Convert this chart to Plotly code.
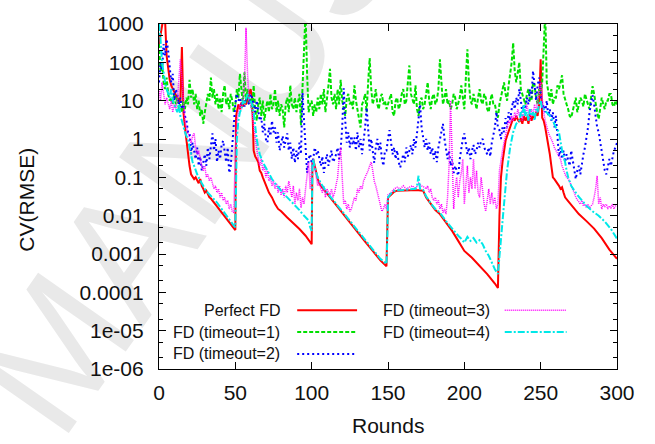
import plotly.graph_objects as go

# ---------------- data ----------------
perfect_fd = [(0,300),(1,600),(2,900),(3,1500),(4,1200),(5,150),(6,60),(7,35),(8,25),(9,20),(10,18),(11,14),(12,12),(13,10),(14,9),(15,250),(16,5),(17,2),(18,0.8),(19,0.35),(20,0.2),(21,0.12),(22,0.1),(23,0.09),(24,0.1),(25,0.08),(26,0.07),(27,0.09),(28,0.06),(29,0.05),(30,0.04),(31,0.045),(32,0.035),(33,0.03),(34,0.028),(36,0.022),(38,0.018),(40,0.014),(42,0.011),(44,0.0085),(46,0.0068),(48,0.0052),(50,0.0042),(50.5,4),(52,8),(53,6),(54,9),(55,7),(56,10),(57,8),(58,12),(59,15),(60,20),(61,12),(62,0.5),(63,0.35),(64,0.3),(65,0.25),(66,0.15),(67,0.13),(68,0.1),(69,0.08),(70,0.06),(72,0.04),(74,0.03),(76,0.02),(78,0.015),(80,0.013),(84,0.009),(88,0.0065),(92,0.0045),(96,0.003),(99,0.002),(100,0.0018),(100.5,0.25),(101,0.3),(102,0.2),(103,0.12),(104,0.09),(105,0.07),(106,0.06),(110,0.038),(115,0.021),(120,0.012),(125,0.0068),(130,0.0037),(135,0.0021),(140,0.0012),(145,0.00068),(149,0.00048),(149.5,0.002),(150,0.03),(152,0.035),(154,0.042),(156,0.045),(160,0.046),(165,0.046),(170,0.046),(173,0.045),(175,0.03),(178,0.02),(181,0.014),(184,0.011),(188,0.0066),(192,0.004),(196,0.0022),(200,0.0012),(205,0.0008),(210,0.0005),(215,0.0003),(220,0.00017),(222,0.00013),(223,0.01),(224,0.1),(225,0.25),(226,0.5),(227,0.9),(228,1.2),(229,1.6),(230,2.2),(231,2.8),(232,3.5),(233,3),(234,4),(235,3.2),(236,2.8),(237,3.5),(238,2.5),(239,4),(240,3),(241,3.8),(242,2.5),(243,4.5),(244,3),(245,4),(246,3.5),(247,5),(248,4),(249,8),(250,120),(251,3.6),(252,3),(253,2),(254,1.2),(255,0.8),(256,0.4),(257,0.2),(258,0.1),(259,0.09),(260,0.08),(261,0.07),(262,0.06),(263,0.05),(264,0.055),(265,0.04),(266,0.03),(268,0.024),(270,0.019),(272,0.015),(275,0.011),(280,0.0072),(285,0.0046),(290,0.0026),(295,0.0013),(300,0.00075)]

timeout1 = [(0,300),(1,60),(2,100),(3,30),(4,20),(5,40),(6,15),(7,10),(8,12),(9,8),(10,15),(11,8),(12,12),(13,6),(14,8),(15,5),(16,10),(17,6),(18,12),(19,8),(20,35),(21,12),(22,20),(23,8),(24,15),(25,6),(26,10),(27,4),(28,6),(29,2.5),(30,5),(31,8),(32,15),(33,10),(34,40),(35,12),(36,20),(37,8),(38,15),(39,6),(40,12),(41,5),(42,15),(43,25),(44,8),(45,12),(46,6),(47,15),(48,10),(49,5),(50,8),(51,20),(52,12),(53,50),(54,15),(55,8),(56,55),(57,10),(58,20),(59,8),(60,12),(61,5),(62,25),(63,6),(64,3),(65,8),(66,12),(67,4),(68,10),(69,3),(70,6),(71,10),(72,5),(73,15),(74,6),(75,8),(76,20),(77,5),(78,10),(79,4),(80,8),(81,6),(82,2),(83,8),(84,12),(85,5),(86,25),(87,8),(88,6),(89,12),(90,5),(91,10),(92,15),(93,2.3),(94,20),(95,300),(96,2000),(97,50),(98,5),(99,8),(100,10),(101,4),(102,8),(103,5),(104,12),(105,6),(106,15),(107,8),(108,20),(109,5),(110,10),(111,25),(112,68),(113,12),(114,8),(115,15),(116,6),(117,20),(118,8),(119,35),(120,10),(121,6),(122,4),(123,12),(124,15),(125,8),(126,10),(127,6),(128,25),(129,10),(130,6),(131,4),(132,2),(133,8),(134,10),(135,15),(136,5),(137,30),(138,130),(139,20),(140,8),(141,12),(142,20),(143,8),(144,6),(145,12),(146,15),(147,8),(148,10),(149,6),(150,8),(151,12),(152,15),(153,5),(154,4),(155,10),(156,12),(157,6),(158,8),(159,15),(160,20),(161,8),(162,10),(163,30),(164,83),(165,15),(166,10),(167,8),(168,25),(169,6),(170,4),(171,10),(172,12),(173,6),(174,8),(175,15),(176,30),(177,10),(178,6),(179,12),(180,15),(181,8),(182,10),(183,20),(184,120),(185,30),(186,8),(187,12),(188,20),(189,8),(190,10),(191,6),(192,8),(193,15),(194,12),(195,6),(196,8),(197,12),(198,25),(199,10),(200,6),(201,40),(202,220),(203,30),(204,10),(205,8),(206,15),(207,10),(208,6),(209,12),(210,20),(211,10),(212,8),(213,15),(214,12),(215,6),(216,5),(217,10),(218,15),(219,8),(220,8),(221,5),(222,3.6),(223,8),(224,12),(225,20),(226,30),(227,15),(228,10),(229,25),(230,50),(231,100),(232,320),(233,60),(234,30),(235,50),(236,100),(237,20),(238,15),(239,10),(240,8),(241,15),(242,20),(243,10),(244,10),(245,30),(246,25),(247,12),(248,8),(249,20),(250,15),(251,30),(252,200),(253,2000),(254,30),(255,15),(256,10),(257,20),(258,8),(259,12),(260,12),(261,25),(262,20),(263,30),(264,46),(265,15),(266,10),(267,8),(268,6),(269,4),(270,3.6),(271,6),(272,8),(273,12),(274,5),(275,8),(276,12),(277,10),(278,7),(279,15),(280,10),(281,8),(282,6),(283,12),(284,24),(285,15),(286,8),(287,5),(288,3.3),(289,6),(290,12),(291,8),(292,6),(293,10),(294,10),(295,15),(296,15),(297,8),(298,7),(299,10),(300,8)]

timeout2 = [(0,30),(1,100),(2,60),(3,300),(4,150),(5,400),(6,200),(7,80),(8,30),(9,50),(10,10),(11,20),(12,15),(13,8),(14,12),(15,6),(16,8),(17,4),(18,3),(19,1.5),(20,1.5),(21,0.4),(22,0.8),(24,0.3),(25,0.6),(26,0.2),(27,0.35),(28,0.15),(30,0.4),(31,0.2),(32,0.6),(33,0.3),(34,0.8),(35,1.4),(36,0.5),(37,1),(38,0.25),(39,0.5),(40,0.3),(41,0.7),(42,0.9),(43,0.4),(44,0.25),(45,0.6),(46,0.13),(47,0.2),(48,0.6),(49,3),(50,8),(51,15),(52,10),(53,12),(54,8),(55,10),(56,7),(57,12),(58,10),(59,8),(60,15),(61,12),(62,8),(63,5),(64,10),(65,6),(66,3),(67,3.6),(68,1.5),(69,2.5),(70,1),(71,0.8),(72,2),(73,1.2),(74,3),(75,1.5),(76,2),(77,0.8),(78,1.5),(79,0.5),(80,0.8),(81,1.2),(82,0.6),(83,1),(84,1.4),(85,0.5),(86,0.8),(87,0.3),(88,0.6),(89,0.24),(90,0.5),(91,0.3),(92,0.8),(93,0.4),(94,16),(95,3),(96,0.5),(97,0.13),(98,0.3),(99,0.4),(100,0.24),(101,0.3),(102,0.6),(103,0.4),(104,0.5),(105,0.3),(106,0.2),(107,0.35),(108,0.13),(109,0.25),(110,0.4),(111,0.2),(112,0.3),(113,0.5),(114,0.25),(115,0.3),(116,0.4),(117,0.6),(118,0.3),(119,0.55),(120,2),(121,21),(122,3),(123,0.8),(124,1.5),(125,0.6),(126,1.2),(127,0.7),(128,1.1),(129,0.5),(130,1.5),(131,0.6),(132,1),(133,0.4),(134,0.9),(135,2),(136,6.6),(137,1.5),(138,0.5),(139,1),(140,0.4),(141,0.24),(142,0.6),(143,1),(144,0.5),(145,0.8),(146,0.3),(147,0.2),(148,0.5),(149,0.5),(150,1),(151,1.7),(152,0.8),(153,0.4),(154,0.6),(155,0.3),(156,0.5),(157,0.25),(158,0.18),(159,0.3),(160,0.4),(161,0.25),(162,0.6),(163,0.35),(164,0.5),(165,0.7),(166,0.4),(167,1),(168,0.6),(169,1.5),(170,3),(171,8),(172,2),(173,1.2),(174,0.6),(175,1),(176,0.5),(177,0.8),(178,0.4),(179,0.6),(180,0.3),(181,0.5),(182,0.25),(183,0.6),(184,1),(185,1.5),(186,2.5),(187,1),(188,0.6),(189,0.3),(190,0.5),(191,0.2),(192,0.3),(193,0.13),(194,0.2),(195,0.15),(196,0.11),(197,0.3),(198,0.6),(199,1),(200,1.4),(201,0.8),(202,0.4),(203,0.6),(204,0.3),(205,0.5),(206,0.7),(207,0.4),(208,0.5),(209,0.8),(210,0.6),(211,0.9),(212,1),(213,0.6),(214,0.5),(215,0.4),(216,0.6),(217,0.35),(218,0.8),(219,1.2),(220,2),(221,5),(222,2),(223,1.7),(224,1),(225,2),(226,1.5),(227,3.5),(228,2),(229,5),(230,3),(231,6),(232,10),(233,6),(234,12),(235,8),(236,20),(237,10),(238,5),(239,8),(240,6),(241,12),(242,8),(243,20),(244,12),(245,60),(246,20),(247,10),(248,25),(249,40),(250,15),(251,6),(252,8),(253,5),(254,10),(255,4),(256,6),(257,3),(258,5),(259,2),(260,4),(261,1),(262,0.35),(263,0.6),(264,0.3),(265,0.5),(266,0.25),(267,0.4),(268,0.3),(269,0.2),(270,0.5),(271,0.3),(272,0.15),(273,0.09),(274,0.15),(275,0.2),(276,0.12),(277,0.25),(278,0.4),(279,0.6),(280,1),(281,2),(282,5),(283,8),(284,14),(285,8),(286,3.6),(287,2),(288,1.5),(289,0.8),(290,0.5),(291,0.3),(292,0.15),(293,0.12),(294,0.2),(295,0.3),(296,0.2),(297,0.35),(298,0.5),(299,0.6),(300,0.8)]

timeout3 = [(0,20),(1,10),(2,30),(3,15),(4,8),(5,12),(6,8),(7,6),(8,10),(9,5),(10,8),(11,6),(12,10),(13,30),(14,120),(15,40),(16,10),(17,3),(18,2),(19,1.5),(20,1),(21,0.8),(22,1.2),(23,1.4),(24,0.6),(25,0.4),(26,0.5),(27,0.3),(28,0.2),(29,0.15),(30,0.2),(31,0.1),(32,0.12),(33,0.08),(34,0.1),(35,0.07),(36,0.05),(37,0.06),(38,0.04),(39,0.05),(40,0.03),(41,0.04),(42,0.025),(43,0.03),(44,0.02),(45,0.025),(46,0.015),(47,0.02),(48,0.013),(49,0.012),(50,0.5),(51,3),(52,5),(53,8),(54,6),(55,10),(56,30),(57,800),(58,50),(59,10),(60,8),(61,5),(62,2),(63,1),(64,0.6),(65,0.3),(66,0.2),(67,0.3),(68,0.15),(69,0.2),(70,0.1),(71,0.15),(72,0.08),(73,0.1),(74,0.06),(75,0.08),(76,0.05),(77,0.07),(78,0.04),(79,0.06),(80,0.034),(81,0.05),(82,0.03),(83,0.06),(84,0.04),(85,0.08),(86,0.05),(87,0.03),(88,0.06),(89,0.02),(90,0.04),(91,0.025),(92,0.05),(93,0.016),(94,0.03),(95,0.02),(96,0.05),(97,0.1),(98,0.25),(99,0.05),(100,0.2),(101,0.3),(102,0.15),(103,0.1),(104,0.06),(105,0.08),(106,0.05),(107,0.04),(108,0.06),(109,0.03),(110,0.05),(111,0.04),(112,0.034),(113,0.05),(114,0.03),(115,0.04),(116,0.06),(117,0.1),(118,0.3),(119,0.6),(120,0.1),(121,0.02),(122,0.025),(123,0.015),(124,0.02),(125,0.013),(126,0.015),(127,0.02),(128,0.03),(129,0.025),(130,0.05),(131,0.04),(132,0.06),(133,0.05),(134,0.08),(135,0.1),(136,0.12),(137,0.15),(138,0.2),(139,0.25),(140,0.15),(141,0.08),(142,0.06),(143,0.04),(144,0.03),(145,0.02),(146,0.013),(147,0.015),(148,0.02),(149,0.015),(150,0.035),(152,0.04),(154,0.05),(156,0.055),(158,0.05),(160,0.06),(162,0.05),(164,0.055),(166,0.06),(168,0.05),(170,0.07),(172,0.06),(174,0.055),(175,0.05),(176,0.06),(177,0.04),(178,0.05),(179,0.03),(180,0.025),(181,0.03),(182,0.02),(183,0.025),(184,0.015),(185,0.02),(186,0.012),(187,0.015),(188,0.011),(189,0.03),(190,0.2),(191,10),(192,0.35),(193,0.015),(194,0.05),(195,0.1),(196,0.03),(197,0.08),(198,0.13),(199,0.3),(200,0.02),(201,0.07),(202,0.2),(203,0.04),(204,0.1),(205,0.05),(206,0.3),(207,0.05),(208,0.15),(209,0.04),(210,0.03),(211,0.1),(212,0.04),(213,0.02),(214,0.013),(215,0.03),(216,0.05),(217,0.02),(218,0.04),(219,0.02),(220,0.03),(221,0.015),(222,0.02),(223,0.15),(224,0.3),(225,0.5),(226,0.8),(227,1.4),(228,2),(229,3),(230,2.5),(231,4),(232,3),(233,5),(234,3.5),(235,6),(236,4),(237,5),(238,3),(239,6),(240,4),(241,8),(242,5),(243,3),(244,6),(245,4),(246,8),(247,5),(248,10),(249,15),(250,30),(251,10),(252,5),(253,3),(254,2),(255,1.5),(256,1.2),(257,1),(258,0.8),(259,0.6),(260,0.5),(261,0.4),(262,0.35),(263,0.3),(264,0.2),(265,0.15),(266,0.12),(267,0.1),(268,0.09),(269,0.08),(270,0.06),(271,0.05),(272,0.04),(273,0.03),(274,0.025),(275,0.023),(276,0.02),(277,0.025),(278,0.018),(279,0.02),(280,0.016),(281,0.02),(282,0.016),(283,0.018),(284,0.02),(285,0.03),(286,0.05),(287,0.11),(288,0.02),(289,0.03),(290,0.015),(291,0.02),(292,0.017),(293,0.02),(294,0.015),(295,0.018),(296,0.016),(297,0.02),(298,0.015),(299,0.018),(300,0.018)]

timeout4 = [(0,1000),(1,400),(2,100),(3,50),(4,30),(5,20),(6,15),(7,12),(8,20),(9,10),(10,8),(11,6),(12,5),(13,8),(14,4),(15,3),(16,2),(17,1.5),(18,1.2),(19,1),(20,0.6),(21,0.35),(22,0.25),(23,0.2),(24,0.15),(25,0.12),(26,0.1),(27,0.08),(28,0.07),(29,0.06),(30,0.05),(32,0.04),(35,0.03),(38,0.022),(41,0.015),(44,0.01),(47,0.007),(49,0.0055),(50,0.005),(50.5,0.3),(51,1),(52,3),(53,5),(54,6),(55,10),(56,8),(57,12),(58,15),(59,12),(60,10),(61,8),(62,5),(63,2),(64,1),(65,0.6),(66,0.4),(68,0.25),(70,0.18),(72,0.12),(74,0.09),(76,0.07),(78,0.055),(80,0.045),(82,0.036),(84,0.03),(86,0.025),(88,0.02),(90,0.017),(92,0.014),(94,0.011),(96,0.009),(98,0.0075),(99,0.005),(100,0.004),(100.5,0.2),(101,0.3),(102,0.18),(104,0.1),(106,0.07),(110,0.04),(115,0.023),(120,0.013),(125,0.0075),(130,0.004),(135,0.0023),(140,0.0013),(145,0.00075),(149,0.00055),(149.5,0.002),(150,0.03),(152,0.038),(154,0.044),(156,0.046),(160,0.047),(165,0.048),(168,0.05),(169,0.06),(170,0.11),(171,0.05),(173,0.047),(175,0.032),(178,0.021),(181,0.015),(184,0.012),(188,0.0072),(192,0.0045),(196,0.003),(198,0.0025),(200,0.002),(202,0.0028),(204,0.0022),(206,0.0026),(208,0.002),(210,0.0023),(212,0.0018),(214,0.0012),(216,0.0009),(218,0.0006),(220,0.0004),(222,0.0003),(224,0.002),(226,0.02),(228,0.15),(230,0.6),(232,1.5),(234,2.5),(236,3),(237,5),(238,4),(239,8),(240,4),(241,5),(242,3),(243,6),(244,4),(245,5),(246,3),(247,6),(248,5),(249,8),(250,10),(251,6),(252,6),(254,5),(256,4),(258,3),(260,2),(262,1.5),(263,0.8),(264,0.5),(265,0.35),(266,0.25),(267,0.15),(268,0.1),(270,0.06),(272,0.045),(274,0.035),(276,0.028),(278,0.022),(280,0.018),(284,0.013),(288,0.01),(292,0.007),(296,0.0045),(300,0.0025)]

series_names = ["Perfect FD", "FD (timeout=1)", "FD (timeout=2)", "FD (timeout=3)", "FD (timeout=4)"]
y_tickvals = [1e-6, 1e-5, 1e-4, 1e-3, 1e-2, 1e-1, 1, 10, 100, 1000]
y_ticktext = ["1e-06", "1e-05", "0.0001", "0.001", "0.01", "0.1", "1", "10", "100", "1000"]
x_tickvals = [0, 50, 100, 150, 200, 250, 300]

# ---------------- styles ----------------
styles = [
    dict(color="#ff0000", width=2, dash="solid"),
    dict(color="#00e000", width=2, dash="4px,2px"),
    dict(color="#0000ff", width=2, dash="2px,3px"),
    dict(color="#ff00ff", width=1.5, dash="1px,1px"),
    dict(color="#00e8e8", width=2, dash="7px,2px,2px,2px"),
]
all_series = [perfect_fd, timeout1, timeout2, timeout3, timeout4]
FONT = "Liberation Sans, Arial, Helvetica, sans-serif"

fig = go.Figure()
for name, pts, st in zip(series_names, all_series, styles):
    xs = [p[0] for p in pts]
    ys = [p[1] for p in pts]
    fig.add_trace(go.Scatter(x=xs, y=ys, mode="lines", name=name, line=st,
                             showlegend=False))

# ---- gnuplot-style legend (text left, sample right) ----
W, H = 655, 444
L, R, T, B = 158.5, 617.5, 14, 369
def px(x):
    return (x - L) / (R - L)
def py(y):
    return (B - y) / (B - T)

legend_pos = [  # (text right edge px, sample x0, sample x1, row y px)
    (282, 297, 357, 308.5),
    (282, 297, 357, 331),
    (282, 297, 357, 353.5),
    (492, 505, 567, 308.5),
    (492, 505, 567, 331),
]
shapes = []
annotations = []
for name, st, (tr, sx0, sx1, ry) in zip(series_names, styles, legend_pos):
    annotations.append(dict(x=px(tr), y=py(ry), xref="paper", yref="paper",
                            text=name, showarrow=False, xanchor="right",
                            yanchor="middle", font=dict(size=16, color="#111111", family=FONT)))
    shapes.append(dict(type="line", xref="paper", yref="paper",
                       x0=px(sx0), x1=px(sx1), y0=py(ry), y1=py(ry), line=st))

# watermark (faint, behind data)
shapes.append(dict(type="rect", xref="paper", yref="paper", x0=0.30, x1=0.41,
                   y0=1.19, y1=1.29, line=dict(width=0), fillcolor="rgba(0,0,0,0)",
                   layer="below",
                   label=dict(text="MANUSCRIPT", textangle=-55, textposition="middle center",
                              font=dict(size=170, color="#e9e9e9", family=FONT))))

annotations.append(dict(x=px(388), y=py(427), xref="paper", yref="paper", text="Rounds",
                        showarrow=False, xanchor="center", yanchor="middle",
                        font=dict(size=21, color="#111111", family=FONT)))
annotations.append(dict(x=px(26), y=py(195), xref="paper", yref="paper", text="CV(RMSE)",
                        showarrow=False, xanchor="center", yanchor="middle", textangle=-90,
                        font=dict(size=21, color="#111111", family=FONT)))

fig.update_layout(
    width=W, height=H,
    margin=dict(l=L, r=W - R, t=T, b=H - B, pad=0),
    paper_bgcolor="white", plot_bgcolor="rgba(0,0,0,0)",
    font=dict(family=FONT, size=21, color="#111111"),
    shapes=shapes, annotations=annotations, showlegend=False,
    xaxis=dict(range=[0, 300], tickvals=x_tickvals, ticks="inside", ticklen=7,
               tickcolor="black", showline=True, linecolor="black", linewidth=1.2,
               mirror="allticks", showgrid=False, zeroline=False,
               tickfont=dict(size=21), ticklabelstandoff=5),
    yaxis=dict(type="log", range=[-6, 3], tickvals=y_tickvals, ticktext=y_ticktext,
               ticks="inside", ticklen=7, tickcolor="black", showline=True,
               linecolor="black", linewidth=1.2, mirror="allticks", showgrid=False,
               zeroline=False, tickfont=dict(size=21), ticklabelstandoff=10,
               minor=dict(ticks="inside", ticklen=4, dtick="D2", tickcolor="black",
                          showgrid=False)),
)

fig.write_html("out.html")
